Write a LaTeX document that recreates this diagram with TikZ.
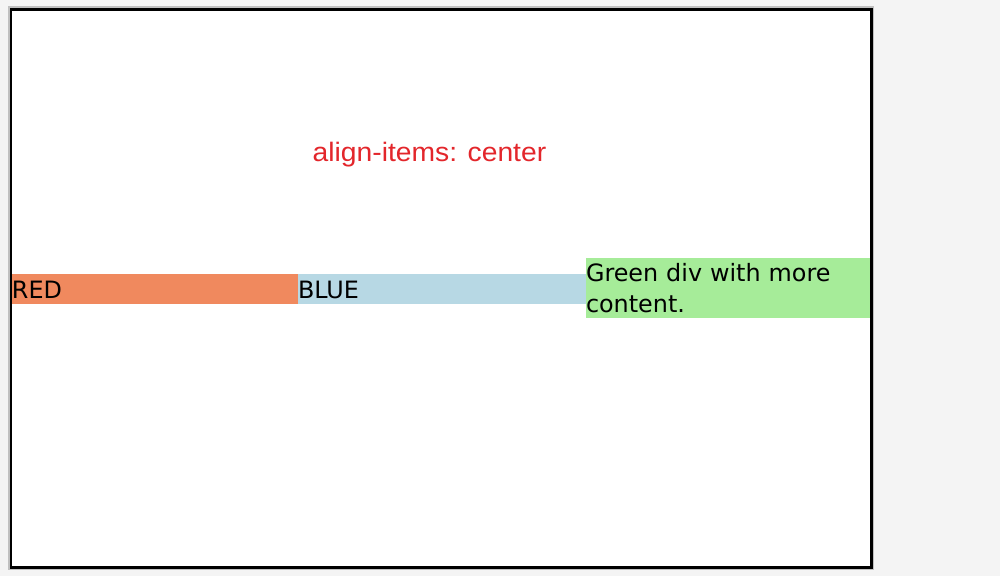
\documentclass[tikz,border=0pt]{standalone}
\usepackage{fontspec}
\setmainfont{DejaVu Sans}
\newfontfamily\titlefont[FakeStretch=1.06]{Liberation Sans}
\definecolor{bgc}{RGB}{244,244,244}
\definecolor{redc}{RGB}{240,137,94}
\definecolor{bluec}{RGB}{183,216,228}
\definecolor{greenc}{RGB}{166,236,153}
\definecolor{titlec}{RGB}{227,38,43}
\definecolor{edgec}{RGB}{192,192,192}
\tikzset{
  bar/.style={inner sep=0pt, outer sep=0pt, align=left, anchor=north west, font=\fontsize{17.9pt}{23.8pt}\selectfont},
}
\begin{document}
\begin{tikzpicture}[x=0.75pt,y=-0.75pt]
\fill[bgc] (0,0) rectangle (1000,576);
\useasboundingbox (0,0) rectangle (1000,576);
% frame
\fill[edgec] (8,6) rectangle (874,570);
\fill[black] (10,8) rectangle (872.7,568.7);
\fill[white] (12.3,10.8) rectangle (870,565.5);
% title
\node[text=titlec, font=\titlefont\fontsize{20pt}{24pt}\selectfont, inner sep=0pt, anchor=base] (title) at (429.5,161) {align-items: center};
% bars
\node[bar, fill=redc, text width=214.5pt, text height=18.2pt, text depth=4.3pt] (red) at (12,274) {RED};
\node[bar, fill=bluec, text width=216pt, text height=18.2pt, text depth=4.3pt] (blue) at (298,274) {BLUE};
\node[bar, fill=greenc, text width=213pt, minimum height=45pt] (green) at (586,258) {Green div with more\\content.};
\end{tikzpicture}
\end{document}
